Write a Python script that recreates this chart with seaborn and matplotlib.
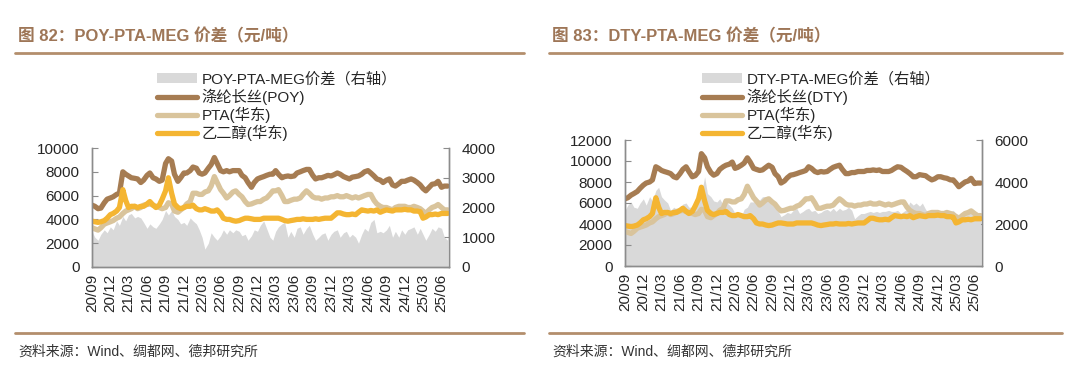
import pandas as pd
import matplotlib
matplotlib.use('Agg')
import matplotlib.pyplot as plt
import matplotlib.dates as mdates
from matplotlib.patches import Patch
from matplotlib.lines import Line2D
import seaborn as sns

# semi-monthly readings, 2020-09-01 .. 2025-07-01 (1st and 15th of each month)
poy = [5200, 5100, 4900, 4950, 5400, 5700, 5800, 5900, 6100, 6200, 8000, 7800,
       7650, 7500, 7450, 7400, 7100, 7300, 7700, 7900, 7500, 7400, 7200, 7300,
       8700, 9100, 8900, 7800, 7200, 7500, 7900, 7900, 8100, 8400, 8300, 7900,
       7800, 7900, 8300, 8600, 9200, 8700, 8100, 8000, 8100, 8000, 8100, 8100,
       8100, 7700, 7500, 7100, 6700, 7100, 7400, 7500, 7600, 7700, 7800, 7800,
       8100, 7800, 7500, 7600, 7650, 7600, 7650, 7900, 8000, 8100, 8200, 8200,
       7700, 7400, 7500, 7500, 7600, 7700, 7650, 7750, 7900, 7800, 7600, 7500,
       7400, 7550, 7600, 7650, 7800, 8000, 8100, 7900, 7650, 7400, 7300, 7100,
       7300, 7400, 6900, 6800, 7000, 7200, 7200, 7300, 7400, 7300, 7100, 6900,
       6600, 6400, 6700, 6950, 7000, 7200, 6700, 6800, 6800]

dty = [6400, 6500, 6750, 6900, 7100, 7400, 7700, 7900, 8000, 8200, 9450, 9300,
       9100, 9000, 8900, 8800, 8500, 8400, 8800, 9200, 9450, 9000, 8500, 8600,
       9000, 10700, 10300, 9450, 8900, 8650, 8800, 9200, 9450, 9600, 9700, 9900,
       9300, 9400, 9600, 9800, 10300, 9900, 9300, 9200, 9100, 9150, 9400, 9600,
       9400, 8800, 8500, 7900, 8100, 8400, 8650, 8700, 8800, 8900, 9000, 9100,
       9450, 9300, 9000, 8900, 9000, 8950, 9000, 9200, 9400, 9500, 9600, 9200,
       8800, 8800, 8900, 8900, 9000, 9000, 9000, 9100, 9100, 9150, 9100, 9150,
       9000, 9000, 9000, 9100, 9300, 9450, 9400, 9200, 9000, 8800, 8500, 8500,
       8700, 8650, 8600, 8400, 8200, 8300, 8500, 8500, 8400, 8350, 8200, 8200,
       7900, 7550, 7800, 8000, 8100, 8350, 7850, 7900, 7900]

pta = [3300, 3200, 3100, 3300, 3600, 3700, 3800, 3900, 4100, 4200, 4500, 4700,
       4800, 4900, 5100, 4900, 5000, 5200, 5250, 5300, 5200, 5100, 5000, 4900,
       5000, 5400, 5300, 4700, 4600, 4800, 5000, 5300, 5500, 6200, 6200, 6100,
       6100, 6300, 6400, 6800, 7600, 7100, 6500, 6200, 5800, 6000, 6300, 6400,
       6100, 5900, 5500, 5250, 5300, 5400, 5500, 5500, 5700, 5800, 6100, 6400,
       6400, 6500, 6000, 5500, 5500, 5600, 5700, 5700, 5800, 6100, 6400, 6200,
       5900, 5800, 5800, 5700, 5800, 5800, 5900, 5900, 6000, 5900, 5900, 6000,
       5900, 5800, 5900, 5800, 5900, 6000, 6100, 6100, 5600, 5300, 5100, 5000,
       5000, 4900, 4800, 5000, 5100, 5100, 5100, 5000, 5000, 5100, 5000, 4900,
       4700, 4500, 4800, 5000, 5100, 5250, 5000, 4800, 4800]

meg = [3850, 3800, 3750, 3800, 3900, 4100, 4400, 4500, 4700, 5000, 6500, 5600,
       5000, 5100, 5100, 5000, 5100, 5100, 5300, 5500, 5200, 5000, 5200, 5700,
       6400, 7500, 6200, 5300, 5000, 4900, 5000, 5100, 5100, 5200, 4900, 4800,
       4800, 4900, 4800, 4700, 4700, 4800, 4500, 4100, 4000, 4000, 3900, 3850,
       3900, 4000, 4100, 4100, 4050, 4000, 4000, 4000, 4100, 4100, 4100, 4100,
       4100, 4100, 4000, 3900, 3850, 3900, 3950, 4000, 4000, 4050, 4000, 4000,
       4000, 4050, 4000, 4050, 4100, 4100, 4100, 4300, 4550, 4550, 4450, 4400,
       4400, 4450, 4400, 4600, 4800, 4750, 4700, 4750, 4700, 4800, 4600, 4700,
       4800, 4750, 4700, 4800, 4800, 4800, 4850, 4800, 4800, 4700, 4700, 4650,
       4100, 4200, 4400, 4400, 4450, 4400, 4500, 4500, 4500]

poy_spread = [1200, 1000, 900, 1100, 1250, 1150, 1350, 1250, 1550, 1400, 1700, 1550,
              1750, 1800, 1650, 1700, 1650, 1500, 1300, 1450, 1350, 1300, 1450, 1600,
              1900, 1750, 1900, 1700, 1600, 1450, 1500, 1400, 1650, 1550, 1450, 1250,
              1000, 600, 800, 1150, 1000, 900, 1050, 1250, 1100, 1250, 1150, 1250,
              1200, 1050, 1100, 900, 1050, 1250, 1200, 1400, 1550, 1300, 1000, 900,
              1200, 1350, 1450, 1500, 1000, 1200, 1000, 1300, 1350, 1100, 1300, 1400,
              1100, 900, 1000, 1100, 1150, 900, 1100, 1200, 1250, 1000, 1150, 1200,
              1000, 1100, 1000, 800, 1100, 1300, 1200, 1500, 1600, 1150, 1200, 1150,
              1250, 1400, 1000, 1200, 1000, 1250, 1100, 1250, 1300, 1350, 1100, 1300,
              1100, 900, 1100, 1300, 1200, 1350, 1300, 1000, 900]

dty_spread = [2650, 2900, 3050, 2800, 2750, 3000, 3200, 2900, 3300, 3100, 3600, 3750,
              3300, 3150, 3000, 2650, 2800, 2700, 2750, 2950, 3000, 2800, 2800, 3100,
              3300, 3450, 4250, 3450, 3300, 3100, 3050, 3200, 2900, 3050, 2900, 2750,
              2500, 2350, 2350, 2700, 2800, 3050, 3050, 3200, 3150, 3300, 3300, 3100,
              3000, 2800, 2600, 2350, 2450, 2550, 2500, 2650, 2750, 2500, 2600, 2700,
              2750, 2600, 2650, 2500, 2550, 2650, 2700, 2600, 2750, 2600, 2750, 2650,
              2700, 2800, 2650, 2250, 2400, 2500, 2500, 2550, 2600, 2550, 2600, 2550,
              2600, 2600, 2650, 2600, 2600, 2650, 2500, 2600, 2700, 3050, 2900, 3000,
              2850, 3000, 2700, 2500, 2500, 2550, 2600, 2550, 2650, 2650, 2600, 2650,
              2500, 2450, 2500, 2500, 2500, 2600, 2600, 2550, 2500]

dates = pd.date_range('2020-09-01', periods=len(poy), freq='SMS')
tick_dates = pd.date_range('2020-09-01', '2025-06-01', freq='3MS')

sns.set_style('white')
plt.rcParams['font.family'] = ['Liberation Sans', 'Noto Sans CJK SC']

c_poy = '#a67c52'
c_pta = '#d9c49c'
c_meg = '#f4b532'
c_gray = '#d9d9d9'
c_rule = '#b38e6c'
c_title = '#9e7657'
c_spine = '#8c8c8c'
lw = 3.8

fig = plt.figure(figsize=(10.8, 3.79), dpi=100)
W, H = 1080, 379

panels = [
    dict(rect=[92, 148, 449, 267], price=poy, spread=poy_spread,
         ylim=10000, ystep=2000, rlim=4000, rstep=1000,
         name='POY', title='图 82：POY-PTA-MEG 价差（元/吨）', tx=18,
         rule=(15, 524), leg=(157, 72)),
    dict(rect=[625, 140, 982, 266], price=dty, spread=dty_spread,
         ylim=12000, ystep=2000, rlim=6000, rstep=2000,
         name='DTY', title='图 83：DTY-PTA-MEG 价差（元/吨）', tx=552,
         rule=(549, 1062), leg=(702, 72)),
]

for p in panels:
    x0, y0, x1, y1 = p['rect']
    ax = fig.add_axes([x0 / W, 1 - y1 / H, (x1 - x0) / W, (y1 - y0) / H])
    ax2 = ax.twinx()

    ax2.fill_between(dates, 0, p['spread'], color=c_gray, lw=0)
    sns.lineplot(x=dates, y=p['price'], ax=ax, color=c_poy, lw=lw)
    sns.lineplot(x=dates, y=pta, ax=ax, color=c_pta, lw=lw)
    sns.lineplot(x=dates, y=meg, ax=ax, color=c_meg, lw=lw)

    # price lines over the grey spread area
    ax.set_zorder(ax2.get_zorder() + 1)
    ax.patch.set_visible(False)

    ax.set_xlim(dates[0], pd.Timestamp('2025-07-08'))
    ax.set_ylim(0, p['ylim'])
    ax2.set_ylim(0, p['rlim'])
    ax.set_yticks(range(0, p['ylim'] + 1, p['ystep']))
    ax2.set_yticks(range(0, p['rlim'] + 1, p['rstep']))
    ax.set_xticks(tick_dates)
    ax.xaxis.set_major_formatter(mdates.DateFormatter('%y/%m'))
    ax.set_xlabel('')
    ax.set_ylabel('')
    for a in (ax, ax2):
        a.spines['top'].set_visible(False)
        for s in ('left', 'right', 'bottom'):
            a.spines[s].set_color(c_spine)
            a.spines[s].set_linewidth(1)
        a.grid(False)
    ax.tick_params(axis='x', direction='in', length=4, color=c_spine,
                   labelsize=11, rotation=90, pad=5)
    ax.tick_params(axis='y', direction='in', length=4, color=c_spine,
                   labelsize=11, pad=9, left=True)
    ax2.tick_params(axis='y', direction='in', length=4, color=c_spine,
                    labelsize=11, pad=9, right=True)

    handles = [Patch(facecolor=c_gray, edgecolor='none'),
               Line2D([], [], color=c_poy, lw=lw),
               Line2D([], [], color=c_pta, lw=lw),
               Line2D([], [], color=c_meg, lw=lw)]
    labels = [p['name'] + '-PTA-MEG价差（右轴）', '涤纶长丝(' + p['name'] + ')',
              'PTA(华东)', '乙二醇(华东)']
    fig.legend(handles, labels, loc='upper left', frameon=False,
               bbox_to_anchor=(p['leg'][0] / W, 1 - p['leg'][1] / H),
               fontsize=11, handlelength=2.6, handleheight=0.6,
               handletextpad=0.3, labelspacing=0.12, borderpad=0,
               borderaxespad=0)

    fig.text(p['tx'] / W, 1 - 36 / H, p['title'], fontsize=12,
             fontweight='bold', color=c_title, va='center', ha='left')
    r0, r1 = p['rule']
    for yy in (53, 333):
        fig.add_artist(Line2D([r0 / W, r1 / W], [1 - yy / H, 1 - yy / H],
                              color=c_rule, lw=2))
    fig.text(p['tx'] / W, 1 - 352 / H, '资料来源：Wind、绸都网、德邦研究所',
             fontsize=10, color='#333333', va='center', ha='left')

fig.savefig('out.png', dpi=100)
